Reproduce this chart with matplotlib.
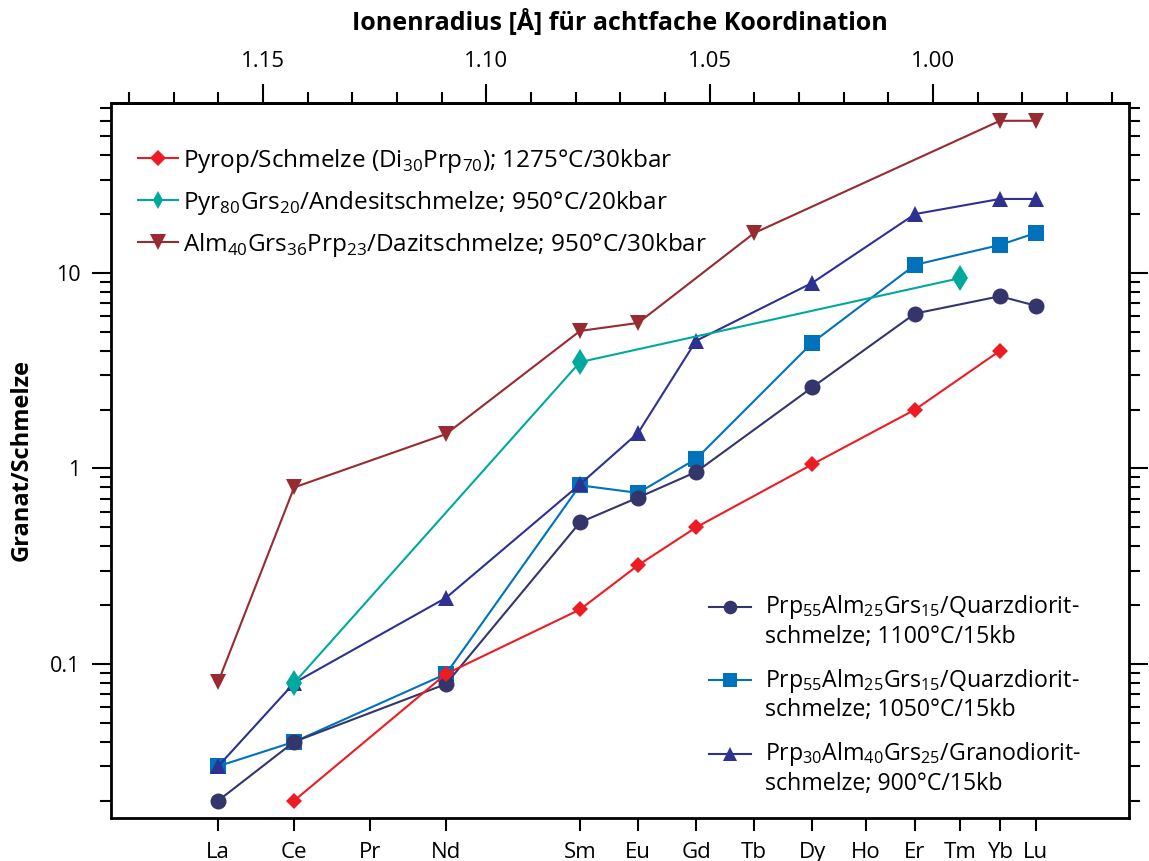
import matplotlib
matplotlib.use('Agg')
import matplotlib.pyplot as plt
from matplotlib.lines import Line2D
from matplotlib.ticker import LogLocator, MultipleLocator, FixedLocator, FuncFormatter, NullFormatter
from matplotlib.legend_handler import HandlerLine2D

plt.rcParams['font.family'] = ['Open Sans', 'DejaVu Sans']
plt.rcParams['mathtext.fontset'] = 'custom'
plt.rcParams['mathtext.rm'] = 'Open Sans'

# ionic radii (8-fold coordination) of the REE
elements = ['La', 'Ce', 'Pr', 'Nd', 'Sm', 'Eu', 'Gd', 'Tb', 'Dy', 'Ho', 'Er', 'Tm', 'Yb', 'Lu']
radii = [1.160, 1.143, 1.126, 1.109, 1.079, 1.066, 1.053, 1.040, 1.027, 1.015, 1.004, 0.994, 0.985, 0.977]
r = dict(zip(elements, radii))

# series: elements and partition coefficients
pyrop_el = ['Ce', 'Nd', 'Sm', 'Eu', 'Gd', 'Dy', 'Er', 'Yb']
pyrop_val = [0.020, 0.089, 0.19, 0.32, 0.50, 1.05, 2.0, 4.0]

pyr80_el = ['Ce', 'Sm', 'Tm']
pyr80_val = [0.080, 3.5, 9.4]

alm40_el = ['La', 'Ce', 'Nd', 'Sm', 'Eu', 'Tb', 'Yb', 'Lu']
alm40_val = [0.081, 0.80, 1.50, 5.05, 5.55, 16.0, 60.0, 60.0]

prp1100_el = ['La', 'Ce', 'Nd', 'Sm', 'Eu', 'Gd', 'Dy', 'Er', 'Yb', 'Lu']
prp1100_val = [0.020, 0.040, 0.079, 0.53, 0.71, 0.96, 2.6, 6.2, 7.6, 6.8]

prp1050_el = ['La', 'Ce', 'Nd', 'Sm', 'Eu', 'Gd', 'Dy', 'Er', 'Yb', 'Lu']
prp1050_val = [0.030, 0.040, 0.089, 0.82, 0.75, 1.12, 4.4, 11.0, 13.9, 16.0]

prp30_el = ['La', 'Ce', 'Nd', 'Sm', 'Eu', 'Gd', 'Dy', 'Er', 'Yb', 'Lu']
prp30_val = [0.030, 0.080, 0.218, 0.83, 1.52, 4.5, 8.9, 20.0, 23.9, 23.9]


class FirstLineHandler(HandlerLine2D):
    # put the handle next to the first line of a two-line label
    def create_artists(self, legend, orig_handle, xdescent, ydescent, width, height, fontsize, trans):
        return super().create_artists(legend, orig_handle, xdescent, ydescent, width,
                                      height + 1.3 * fontsize, fontsize, trans)


fig = plt.figure(figsize=(11.49, 8.61), dpi=100)
ax = fig.add_axes([0.0966, 0.0499, 0.8860, 0.8305])

lw = 1.5
# drawing order: squares under circles/triangles, diamonds on top
l5, = ax.plot([r[e] for e in prp1050_el], prp1050_val, '-s', color='#0072bc', lw=lw, ms=12, mew=0, zorder=3,
              label='Prp$_{55}$Alm$_{25}$Grs$_{15}$/Quarzdiorit-\nschmelze; 1050°C/15kb')
l4, = ax.plot([r[e] for e in prp1100_el], prp1100_val, '-o', color='#34356a', lw=lw, ms=11.5, mew=0, zorder=4,
              label='Prp$_{55}$Alm$_{25}$Grs$_{15}$/Quarzdiorit-\nschmelze; 1100°C/15kb')
l6, = ax.plot([r[e] for e in prp30_el], prp30_val, '-^', color='#2e3192', lw=lw, ms=12, mew=0, zorder=5,
              label='Prp$_{30}$Alm$_{40}$Grs$_{25}$/Granodiorit-\nschmelze; 900°C/15kb')
l3, = ax.plot([r[e] for e in alm40_el], alm40_val, '-v', color='#982a31', lw=lw, ms=12, mew=0, zorder=6,
              label='Alm$_{40}$Grs$_{36}$Prp$_{23}$/Dazitschmelze; 950°C/30kbar')
l2, = ax.plot([r[e] for e in pyr80_el], pyr80_val, '-d', color='#00a99d', lw=lw, ms=13.5, mew=0, zorder=7,
              label='Pyr$_{80}$Grs$_{20}$/Andesitschmelze; 950°C/20kbar')
l1, = ax.plot([r[e] for e in pyrop_el], pyrop_val, '-D', color='#ed1c24', lw=lw, ms=8.2, mew=0, zorder=8,
              label='Pyrop/Schmelze (Di$_{30}$Prp$_{70}$); 1275°C/30kbar')

# smaller teal marker in the legend
l2_key = Line2D([], [], marker='d', color='#00a99d', lw=lw, ms=9, mew=0, label=l2.get_label())

ax.set_yscale('log')
ax.set_xlim(1.1840, 0.9561)
ax.set_ylim(0.0163, 74)

# bottom axis: element names at their radii
ax.xaxis.set_major_locator(FixedLocator(radii))
ax.set_xticklabels(elements, family=['Liberation Sans Narrow', 'Open Sans'], fontsize=16)
ax.xaxis.set_minor_locator(FixedLocator([]))
ax.tick_params(axis='x', which='major', direction='out', length=9, width=1.5, pad=8)

# y axis
ax.yaxis.set_major_locator(FixedLocator([0.1, 1, 10]))
ax.yaxis.set_major_formatter(FuncFormatter(lambda v, p: {0.1: '0.1', 1: '1', 10: '10'}.get(v, '')))
ax.yaxis.set_minor_locator(LogLocator(base=10, subs=range(2, 10)))
ax.yaxis.set_minor_formatter(NullFormatter())
ax.tick_params(axis='y', which='major', direction='out', length=14, width=1.5, labelsize=15.5, pad=8,
               left=True, right=True)
ax.tick_params(axis='y', which='minor', direction='out', length=8, width=1.5, left=True, right=True)

# top axis: ionic radius
secax = ax.secondary_xaxis('top')
secax.xaxis.set_major_locator(FixedLocator([1.15, 1.10, 1.05, 1.00]))
secax.xaxis.set_major_formatter(FuncFormatter(lambda v, p: '%.2f' % v))
secax.xaxis.set_minor_locator(MultipleLocator(0.01))
secax.tick_params(which='major', direction='out', length=14, width=1.5, labelsize=16, pad=8)
secax.tick_params(which='minor', direction='out', length=8, width=1.5)

for s in ax.spines.values():
    s.set_linewidth(2)
for s in secax.spines.values():
    s.set_linewidth(2)

fig.text(0.5396, 0.9744, 'Ionenradius [Å] für achtfache Koordination', ha='center', va='center',
         fontsize=18, fontweight='bold')
fig.text(0.019, 0.4657, 'Granat/Schmelze', rotation=90, ha='center', va='center',
         fontsize=17, fontweight='bold', family=['Liberation Sans Narrow', 'Open Sans'])

leg1 = ax.legend(handles=[l1, l2_key, l3], loc='upper left', bbox_to_anchor=(138 / 1149, 1 - 147 / 861),
                 bbox_transform=fig.transFigure, frameon=False, fontsize=17.5, borderpad=0, borderaxespad=0,
                 handlelength=1.65, handletextpad=0.2, labelspacing=0.57)
ax.add_artist(leg1)
leg2 = ax.legend(handles=[l4, l5, l6], loc='upper left', bbox_to_anchor=(709 / 1149, 1 - 593 / 861),
                 bbox_transform=fig.transFigure, frameon=False, fontsize=16.7, borderpad=0, borderaxespad=0,
                 handlelength=1.8, handletextpad=0.6, labelspacing=0.78, markerscale=0.85,
                 handler_map={l4: FirstLineHandler(), l5: FirstLineHandler(), l6: FirstLineHandler()})

fig.savefig('out.png', dpi=100)
